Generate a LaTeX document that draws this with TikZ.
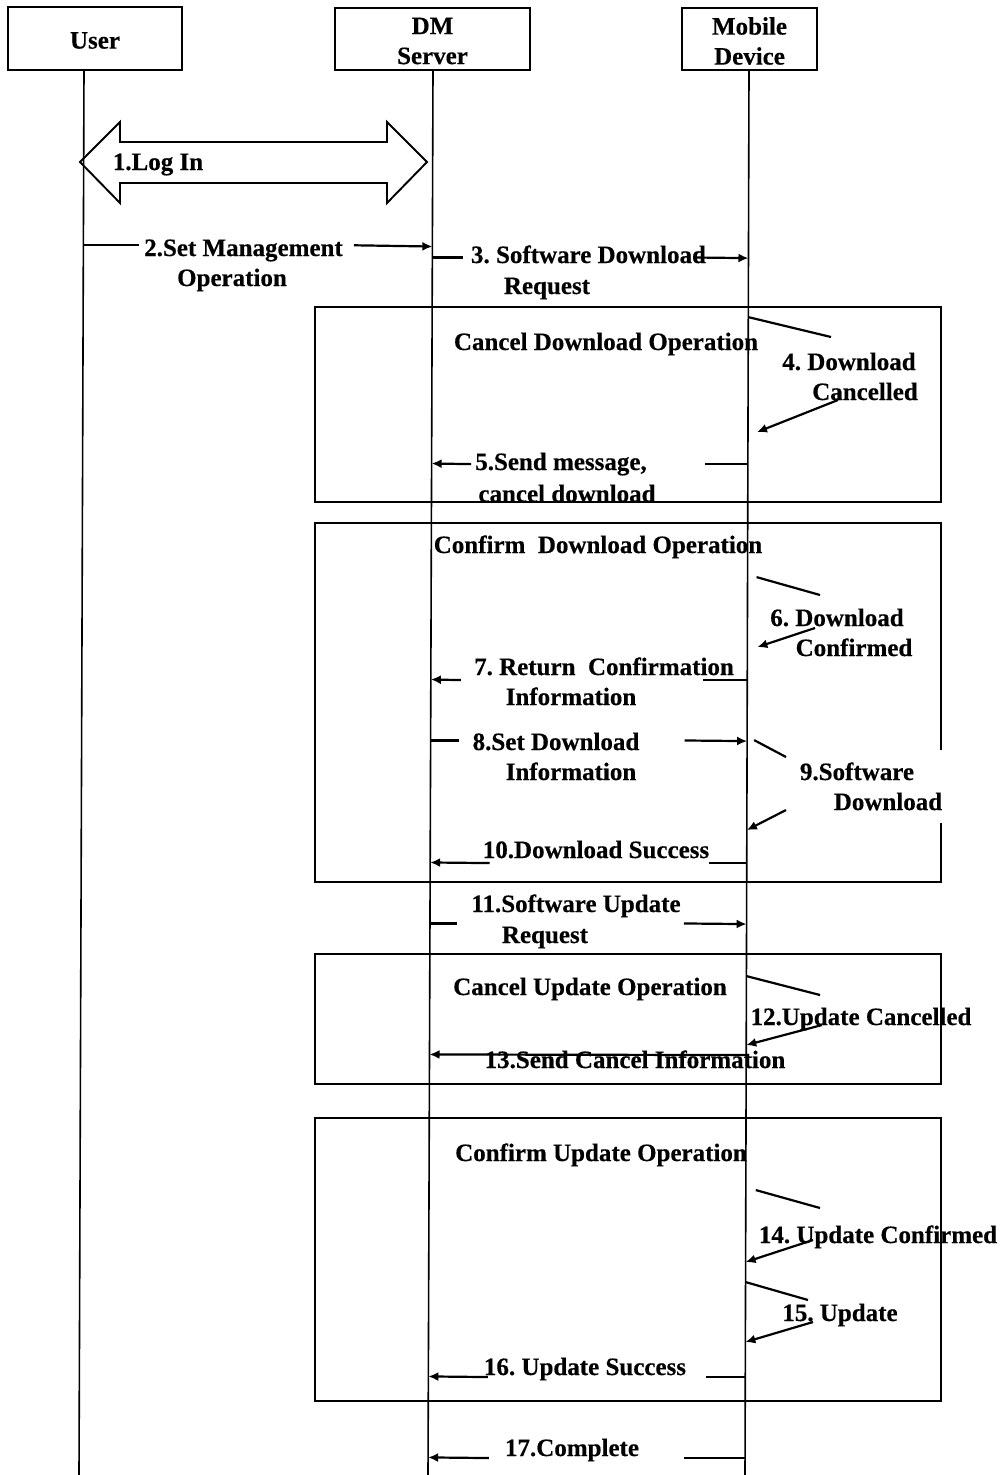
\documentclass[tikz,border=0pt]{standalone}
\usepackage{fontspec}
\setmainfont{Liberation Serif}[BoldFeatures={FakeBold=0.4}]
\usetikzlibrary{arrows.meta,calc}

\begin{document}
\frenchspacing
\begin{tikzpicture}[x=1pt,y=-1pt,
  every node/.style={font=\bfseries\fontsize{25}{30}\selectfont, inner sep=0pt},
  party/.style={draw, line width=1.8pt},
  partytext/.style={align=center, yshift=-2pt},
  life/.style={line width=1.6pt},
  msg/.style={line width=2.2pt},
  arr/.style={msg, -{Latex[length=10pt,width=9pt]}},
  frame/.style={line width=1.9pt},
  lbl/.style={anchor=base},
]
\useasboundingbox (0,0) rectangle (1002,1475);

% participants
\node[party, minimum width=174pt, minimum height=63pt] (user) at (95,38.5) {};
\node[partytext] (usert) at (user) {User};
\node[party, minimum width=195pt, minimum height=62pt] (dm) at (432.5,39) {};
\node[partytext] (dmt) at (dm) {DM\\Server};
\node[party, minimum width=135pt, minimum height=62pt] (md) at (749.5,39) {};
\node[partytext] (mdt) at (md) {Mobile\\Device};

% lifelines
\coordinate (ut) at (84,70);  \coordinate (ub) at (79,1475);
\coordinate (dt) at (433,70); \coordinate (db) at (428,1475);
\coordinate (mt) at (749,70); \coordinate (mb) at (745,1475);
\draw[life] (ut) -- (ub);
\draw[life] (dt) -- (db);
\draw[life] (mt) -- (mb);

% 1. log in (double arrow)
\draw[line width=1.9pt, line join=miter]
  (80,162) -- (120,122) -- (120,142) -- (387,142) -- (387,122) -- (427,162)
  -- (387,203) -- (387,183) -- (120,183) -- (120,203) -- cycle;
\node[lbl] (l1) at (158,170) {1.Log In};

% 2. set management operation
\coordinate (s2) at ($(ut)!(0,245)!(ub)$);
\coordinate (e2) at ($(dt)!(0,245)!(db)$);
\node[lbl] (l2) at (243.5,256) {2.Set Management};
\node[lbl] (l2b) at (232,286) {Operation};
\draw[msg] (s2) -- ($(l2.west |- s2)+(-5,0)$);
\draw[arr] ($(l2.east |- s2)+(11,0)$) -- (e2);

% 3. software download request
\coordinate (s3) at ($(dt)!(0,256)!(db)$);
\coordinate (e3) at ($(mt)!(0,256)!(mb)$);
\node[lbl] (l3) at (588.5,263) {3. Software Download};
\node[lbl] (l3b) at (547,294) {Request};
\draw[msg] (s3) -- ($(l3.west |- s3)+(-8,0)$);
\draw[arr] ($(l3.east |- s3)+(-10,0)$) -- (e3);

% cancel download frame
\draw[frame] (315,307) rectangle (941,502);
\node[lbl] (f1) at (606,350) {Cancel Download Operation};

% 4. download cancelled
\coordinate (a4) at ($(mt)!(0,315)!(mb)$);
\coordinate (k4) at (831,337);
\coordinate (j4) at (838,400);
\coordinate (t4) at ($(mt)!(0,430)!(mb)+(9,0)$);
\node[lbl] (l4) at (849,370) {4. Download};
\node[lbl] (l4b) at (865,400) {Cancelled};
\draw[msg] (a4) -- (k4);
\draw[arr] (j4) -- (t4);

% 5. send message, cancel download
\coordinate (s5) at ($(mt)!(0,462)!(mb)$);
\coordinate (e5) at ($(dt)!(0,462)!(db)$);
\node[lbl] (l5) at (561,470) {5.Send message,};
\node[lbl] (l5b) at (567,502) {cancel download};
\draw[msg] (s5) -- ($(l5.east |- s5)+(58,0)$);
\draw[arr] ($(l5.west |- s5)+(-4,0)$) -- (e5);

% confirm download frame (right side left open behind step 9)
\draw[frame] (941,750) -- (941,523) -- (315,523) -- (315,882) -- (941,882) -- (941,823);
\node[lbl] (f2) at (598,553) {Confirm\ \ Download Operation};

% 6. download confirmed
\coordinate (a6) at ($(mt)!(0,575)!(mb)+(9,0)$);
\coordinate (k6) at (820,595);
\coordinate (j6) at (815,628);
\coordinate (t6) at ($(mt)!(0,645)!(mb)+(10,0)$);
\node[lbl] (l6) at (837,626) {6. Download};
\node[lbl] (l6b) at (854,656) {Confirmed};
\draw[msg] (a6) -- (k6);
\draw[arr] (j6) -- (t6);

% 7. return confirmation information
\coordinate (s7) at ($(mt)!(0,678)!(mb)$);
\coordinate (e7) at ($(dt)!(0,678)!(db)$);
\node[lbl] (l7) at (604,675) {7. Return\ \ Confirmation};
\node[lbl] (l7b) at (571,705) {Information};
\draw[msg] (s7) -- ($(l7.east |- s7)+(-31,0)$);
\draw[arr] ($(l7.west |- s7)+(-13,0)$) -- (e7);

% 8. set download information
\coordinate (s8) at ($(dt)!(0,739)!(db)$);
\coordinate (e8) at ($(mt)!(0,739)!(mb)$);
\node[lbl] (l8) at (556,750) {8.Set Download};
\node[lbl] (l8b) at (571,780) {Information};
\draw[msg] (s8) -- ($(l8.west |- s8)+(-13,0)$);
\draw[arr] ($(l8.east |- s8)+(45,0)$) -- (e8);

% 9. software download
\coordinate (a9) at ($(mt)!(0,738)!(mb)+(7,0)$);
\coordinate (k9) at (786,757);
\coordinate (j9) at (786,810);
\coordinate (t9) at ($(mt)!(0,828)!(mb)$);
\node[lbl] (l9) at (857,780) {9.Software};
\node[lbl] (l9b) at (888,810) {Download};
\draw[msg] (a9) -- (k9);
\draw[arr] (j9) -- (t9);

% 10. download success
\coordinate (s10) at ($(mt)!(0,861)!(mb)$);
\coordinate (e10) at ($(dt)!(0,861)!(db)$);
\node[lbl] (l10) at (596,858) {10.Download Success};
\draw[msg] (s10) -- (l10.east |- s10);
\draw[arr] ($(l10.west |- s10)+(7,0)$) -- (e10);

% 11. software update request
\coordinate (s11) at ($(dt)!(0,922)!(db)$);
\coordinate (e11) at ($(mt)!(0,922)!(mb)$);
\node[lbl] (l11) at (576,912) {11.Software Update};
\node[lbl] (l11b) at (545,943) {Request};
\draw[msg] (s11) -- ($(l11.west |- s11)+(-14,0)$);
\draw[arr] ($(l11.east |- s11)+(3,0)$) -- (e11);

% cancel update frame
\draw[frame] (315,954) rectangle (941,1084);
\node[lbl] (f3) at (590,995) {Cancel Update Operation};

% 12. update cancelled
\coordinate (a12) at ($(mt)!(0,974)!(mb)$);
\coordinate (k12) at (820,995);
\coordinate (j12) at (822,1025);
\coordinate (t12) at ($(mt)!(0,1043)!(mb)$);
\node[lbl] (l12) at (861,1025) {12.Update Cancelled};
\draw[msg] (a12) -- (k12);
\draw[arr] (j12) -- (t12);

% 13. send cancel information
\coordinate (s13) at ($(mt)!(0,1053)!(mb)$);
\coordinate (e13) at ($(dt)!(0,1053)!(db)$);
\draw[arr] (s13) -- (e13);
\node[lbl] (l13) at (635,1068) {13.Send Cancel Information};

% confirm update frame
\draw[frame] (315,1118) rectangle (941,1401);
\node[lbl] (f4) at (601,1161) {Confirm Update Operation};

% 14. update confirmed
\coordinate (a14) at ($(mt)!(0,1188)!(mb)+(10,0)$);
\coordinate (k14) at (820,1208);
\coordinate (j14) at (813,1240);
\coordinate (t14) at ($(mt)!(0,1260)!(mb)$);
\node[lbl] (l14) at (878,1243) {14. Update Confirmed};
\draw[msg] (a14) -- (k14);
\draw[arr] (j14) -- (t14);

% 15. update
\coordinate (a15) at ($(mt)!(0,1280)!(mb)$);
\coordinate (k15) at (808,1300);
\coordinate (j15) at (813,1322);
\coordinate (t15) at ($(mt)!(0,1340)!(mb)$);
\node[lbl] (l15) at (840,1321) {15. Update};
\draw[msg] (a15) -- (k15);
\draw[arr] (j15) -- (t15);

% 16. update success
\coordinate (s16) at ($(mt)!(0,1375)!(mb)$);
\coordinate (e16) at ($(dt)!(0,1375)!(db)$);
\node[lbl] (l16) at (585,1375) {16. Update Success};
\draw[msg] (s16) -- ($(l16.east |- s16)+(20,0)$);
\draw[arr] ($(l16.west |- s16)+(4,0)$) -- (e16);

% 17. complete
\coordinate (s17) at ($(mt)!(0,1456)!(mb)$);
\coordinate (e17) at ($(dt)!(0,1456)!(db)$);
\node[lbl] (l17) at (572,1456) {17.Complete};
\draw[msg] (s17) -- ($(l17.east |- s17)+(45,0)$);
\draw[arr] ($(l17.west |- s17)+(-16,0)$) -- (e17);
\end{tikzpicture}
\end{document}
